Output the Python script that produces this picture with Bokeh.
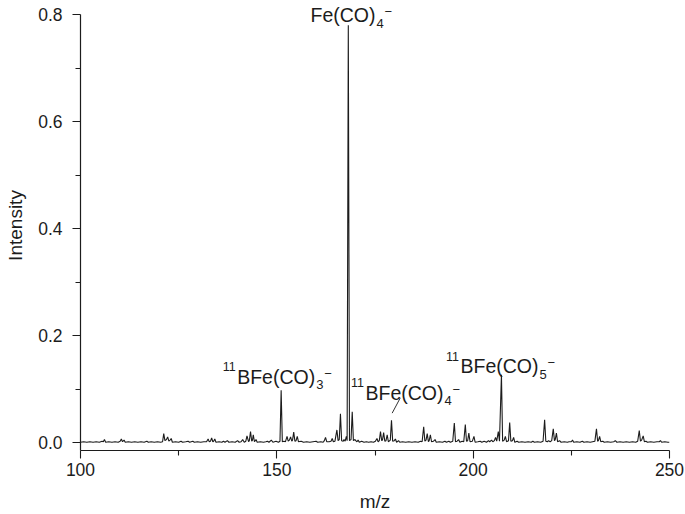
from bokeh.plotting import figure
from bokeh.models import Range1d, FixedTicker, Label
from bokeh.embed import file_html
from bokeh.resources import INLINE

# ---- data (m/z, intensity) ----
mz = [
    100.0, 100.8, 101.6, 102.4, 103.2, 104.0, 104.8, 105.5, 105.8, 106.1, 106.4, 107.2, 108.0, 108.8, 109.6,
    110.1, 110.4, 110.7, 111.1, 111.4, 112.2, 113.0, 113.8, 114.6, 115.4, 116.2, 116.9, 117.3, 118.0, 118.8,
    119.6, 120.4, 120.9, 121.2, 121.5, 121.9, 122.2, 122.5, 122.8, 123.1, 123.4, 124.2, 125.0, 125.6, 126.0,
    126.8, 127.4, 127.8, 128.6, 129.0, 129.8, 130.6, 131.4, 132.1, 132.5, 132.8, 133.1, 133.4, 133.7, 133.9,
    134.2, 134.5, 135.3, 136.0, 136.4, 136.8, 137.4, 137.8, 138.6, 139.4, 140.0, 140.4, 140.9, 141.3, 141.7,
    142.1, 142.4, 142.8, 143.0, 143.3, 143.6, 143.8, 144.0, 144.3, 144.7, 145.0, 145.8, 146.6, 147.2, 147.6,
    148.0, 148.6, 149.0, 149.8, 150.4, 150.8, 151.1, 151.4, 151.8, 152.2, 152.6, 152.9, 153.2, 153.5, 153.8,
    154.0, 154.3, 154.6, 154.9, 155.2, 155.5, 156.2, 156.8, 157.6, 158.4, 159.2, 160.0, 160.4, 161.2, 161.8,
    162.1, 162.4, 162.7, 163.3, 163.8, 164.1, 164.4, 164.8, 165.3, 165.6, 165.9, 166.2, 166.5, 166.9, 167.1,
    167.4, 167.7, 167.9, 168.2, 168.5, 168.9, 169.2, 169.5, 169.9, 170.1, 170.4, 170.7, 171.0, 171.6, 172.2,
    172.8, 173.4, 174.0, 174.6, 175.1, 175.5, 175.8, 176.1, 176.4, 176.7, 176.9, 177.2, 177.5, 177.8, 178.1,
    178.4, 178.9, 179.2, 179.5, 179.9, 180.2, 180.5, 181.0, 181.3, 182.0, 182.8, 183.6, 184.4, 185.2, 186.0,
    186.6, 187.0, 187.4, 187.7, 188.0, 188.3, 188.6, 188.8, 189.1, 189.4, 189.9, 190.3, 190.6, 191.4, 192.2,
    192.8, 193.2, 193.8, 194.2, 194.8, 195.2, 195.5, 195.9, 196.3, 196.6, 197.2, 197.6, 198.0, 198.3, 198.6,
    198.9, 199.2, 199.8, 200.2, 200.5, 201.2, 201.8, 202.2, 202.8, 203.4, 203.9, 204.2, 204.7, 205.0, 205.4,
    205.7, 206.0, 206.4, 206.7, 207.2, 207.5, 207.9, 208.2, 208.5, 209.0, 209.3, 209.6, 210.0, 210.3, 210.6,
    211.2, 211.6, 212.4, 213.2, 214.0, 214.8, 215.2, 215.6, 216.4, 217.2, 217.8, 218.2, 218.5, 218.9, 219.2,
    219.6, 220.0, 220.4, 220.7, 220.9, 221.2, 221.5, 222.0, 222.4, 223.2, 224.0, 224.4, 225.0, 225.3, 225.6,
    226.4, 227.2, 227.8, 228.2, 229.0, 229.8, 230.4, 231.0, 231.4, 231.7, 231.9, 232.2, 232.5, 233.0, 233.4,
    234.2, 235.0, 235.8, 236.2, 236.6, 237.4, 238.2, 239.0, 239.8, 240.6, 241.4, 241.9, 242.3, 242.6, 242.9,
    243.3, 243.6, 244.0, 244.4, 245.2, 246.0, 246.8, 247.4, 247.7, 248.0, 248.8, 249.6, 250.0,
]
intensity = [
    0.001, 0.002, 0.001, 0.002, 0.001, 0.002, 0.001, 0.003, 0.002, 0.006, 0.001, 0.002, 0.001, 0.002, 0.001,
    0.003, 0.007, 0.002, 0.005, 0.001, 0.002, 0.001, 0.002, 0.001, 0.002, 0.001, 0.003, 0.001, 0.002, 0.001,
    0.002, 0.001, 0.002, 0.017, 0.004, 0.006, 0.011, 0.003, 0.005, 0.008, 0.001, 0.002, 0.001, 0.003, 0.001,
    0.002, 0.003, 0.001, 0.003, 0.001, 0.002, 0.001, 0.002, 0.002, 0.007, 0.002, 0.003, 0.009, 0.002, 0.003,
    0.007, 0.001, 0.002, 0.001, 0.003, 0.001, 0.004, 0.001, 0.002, 0.001, 0.004, 0.001, 0.002, 0.006, 0.001,
    0.003, 0.013, 0.002, 0.004, 0.021, 0.003, 0.005, 0.015, 0.002, 0.006, 0.001, 0.002, 0.001, 0.002, 0.003,
    0.001, 0.005, 0.001, 0.003, 0.001, 0.003, 0.098, 0.002, 0.003, 0.002, 0.012, 0.003, 0.005, 0.011, 0.003,
    0.005, 0.020, 0.003, 0.004, 0.012, 0.002, 0.003, 0.001, 0.002, 0.001, 0.002, 0.003, 0.001, 0.002, 0.001,
    0.004, 0.010, 0.002, 0.002, 0.003, 0.008, 0.002, 0.003, 0.024, 0.004, 0.006, 0.054, 0.004, 0.003, 0.006,
    0.003, 0.012, 0.004, 0.780, 0.004, 0.006, 0.058, 0.004, 0.006, 0.004, 0.002, 0.005, 0.001, 0.003, 0.001,
    0.002, 0.001, 0.002, 0.001, 0.003, 0.008, 0.002, 0.004, 0.021, 0.004, 0.005, 0.019, 0.003, 0.004, 0.015,
    0.002, 0.005, 0.042, 0.003, 0.004, 0.007, 0.001, 0.004, 0.001, 0.002, 0.001, 0.002, 0.001, 0.002, 0.001,
    0.003, 0.002, 0.030, 0.003, 0.005, 0.017, 0.002, 0.004, 0.015, 0.002, 0.003, 0.006, 0.001, 0.002, 0.001,
    0.003, 0.001, 0.003, 0.001, 0.003, 0.037, 0.002, 0.003, 0.006, 0.001, 0.003, 0.002, 0.034, 0.003, 0.004,
    0.018, 0.002, 0.003, 0.012, 0.001, 0.002, 0.003, 0.001, 0.003, 0.001, 0.004, 0.002, 0.005, 0.002, 0.004,
    0.010, 0.003, 0.021, 0.003, 0.127, 0.003, 0.005, 0.012, 0.002, 0.004, 0.038, 0.003, 0.004, 0.010, 0.001,
    0.003, 0.001, 0.002, 0.001, 0.002, 0.001, 0.003, 0.001, 0.002, 0.001, 0.003, 0.043, 0.003, 0.002, 0.004,
    0.002, 0.004, 0.026, 0.004, 0.006, 0.018, 0.002, 0.004, 0.001, 0.002, 0.001, 0.002, 0.002, 0.005, 0.001,
    0.002, 0.001, 0.003, 0.001, 0.002, 0.001, 0.002, 0.003, 0.026, 0.003, 0.004, 0.012, 0.002, 0.003, 0.001,
    0.002, 0.001, 0.002, 0.004, 0.001, 0.002, 0.001, 0.002, 0.001, 0.002, 0.001, 0.003, 0.023, 0.003, 0.005,
    0.013, 0.002, 0.003, 0.001, 0.002, 0.001, 0.002, 0.002, 0.004, 0.001, 0.002, 0.001, 0.001,
]

x_ticks = [100, 150, 200, 250]
x_minor = [125, 175, 225]
x_tick_labels = ["100", "150", "200", "250"]
y_ticks = [0.0, 0.2, 0.4, 0.6, 0.8]
y_minor = [0.1, 0.3, 0.5, 0.7]
y_tick_labels = ["0.0", "0.2", "0.4", "0.6", "0.8"]

# peak annotations: main text, subscript, data x of main-text left, data y of baseline, "11" prefix
ann_main = ["Fe(CO)", "BFe(CO)", "BFe(CO)", "BFe(CO)"]
ann_sub = ["4", "3", "4", "5"]
ann_x = [158.57, 139.90, 172.57, 196.77]
ann_y = [0.7985, 0.1237, 0.0933, 0.1431]
ann_iso = [False, True, True, True]
leader_x = [181.41, 179.37]
leader_y = [0.0834, 0.0554]

Y_START, Y_AXIS_END, Y_VIEW_END = -0.0144, 0.8, 0.8261

FONT = "Liberation Sans"
INK = "#1c1c1c"

p = figure(width=685, height=514, output_backend="svg", toolbar_location=None,
           x_range=Range1d(100, 250), y_range=Range1d(Y_START, Y_VIEW_END),
           min_border_left=80, min_border_right=16, min_border_top=0, min_border_bottom=63)
p.outline_line_color = None
p.grid.visible = False
p.background_fill_color = "white"
p.border_fill_color = "white"

p.line(mz, intensity, line_color=INK, line_width=1.1)
p.line(leader_x, leader_y, line_color=INK, line_width=0.9)

for ax in (p.xaxis[0], p.yaxis[0]):
    ax.axis_line_color = INK
    ax.axis_line_width = 1.2
    ax.major_tick_line_color = INK
    ax.minor_tick_line_color = INK
    ax.major_tick_line_width = 1.1
    ax.minor_tick_line_width = 1.1
    ax.major_tick_in = 0
    ax.major_tick_out = 8
    ax.minor_tick_in = 0
    ax.minor_tick_out = 5
    ax.major_label_text_font = FONT
    ax.major_label_text_font_size = "17.5px"
    ax.major_label_text_color = INK
    ax.axis_label_text_font = FONT
    ax.axis_label_text_font_size = "19px"
    ax.axis_label_text_font_style = "normal"
    ax.axis_label_text_color = INK

p.yaxis.bounds = (Y_START, Y_AXIS_END)
p.xaxis.ticker = FixedTicker(ticks=x_ticks, minor_ticks=x_minor)
p.yaxis.ticker = FixedTicker(ticks=y_ticks, minor_ticks=y_minor)
p.xaxis.major_label_overrides = {t: l for t, l in zip(x_ticks, x_tick_labels)}
p.yaxis.major_label_overrides = {t: l for t, l in zip(y_ticks, y_tick_labels)}
p.xaxis.axis_label = "m/z"
p.yaxis.axis_label = "Intensity"
p.xaxis.major_label_standoff = 4
p.xaxis.axis_label_standoff = 12
p.yaxis.major_label_standoff = 10
p.yaxis.axis_label_standoff = 9


def add_label(text, x, y, size, dx, dy, align="left"):
    p.add_layout(Label(x=x, y=y, x_units="data", y_units="data", text=text,
                       text_font=FONT, text_font_size=size, text_color=INK,
                       text_align=align, text_baseline="alphabetic",
                       x_offset=dx, y_offset=dy))


for main, sub, x, y, iso in zip(ann_main, ann_sub, ann_x, ann_y, ann_iso):
    w = 79 if iso else 66
    add_label(main, x, y, "19.5px", 0, 0)
    add_label(sub, x, y, "13px", w, -8)
    add_label("\u2212", x, y, "13px", w + 8, 3.5)
    if iso:
        add_label("11", x, y, "12.5px", -1.5, 10, align="right")

open("out.html", "w").write(file_html(p, INLINE))
